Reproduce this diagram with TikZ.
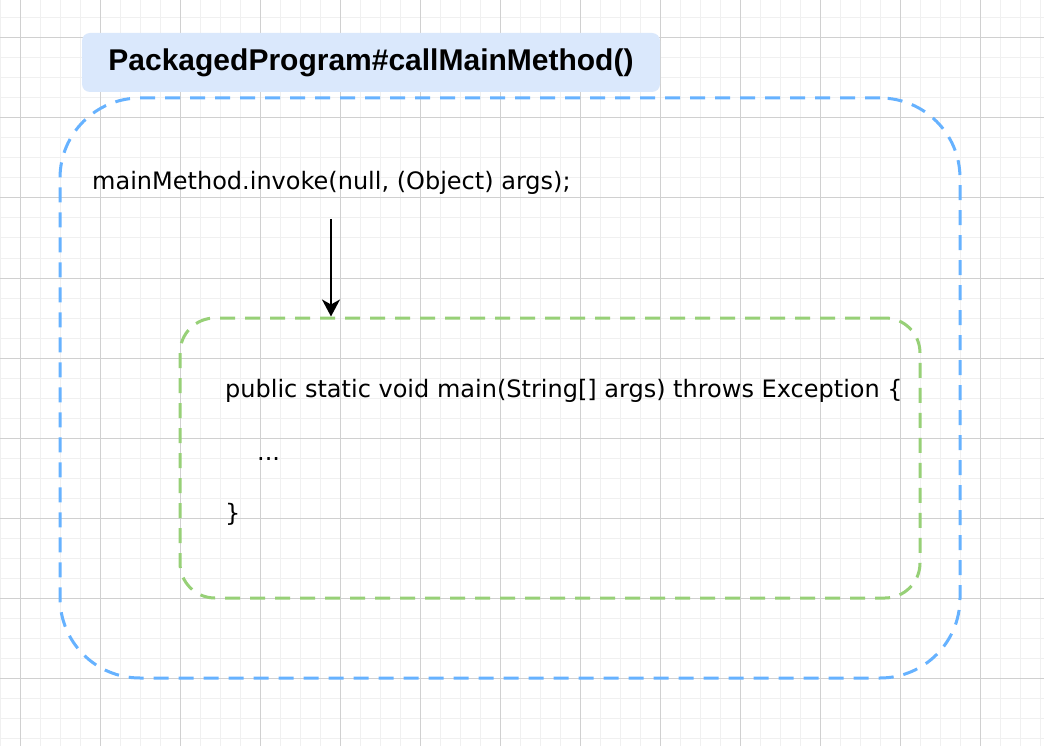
\documentclass[tikz,border=0pt]{standalone}
\usepackage{fontspec}
\setmainfont{DejaVu Sans}
\newfontfamily\titlefont{Liberation Sans}
\usepackage{xcolor}
\usepackage{tikz}
\usetikzlibrary{arrows.meta}
\definecolor{gridminor}{HTML}{F0F0F0}
\definecolor{gridmajor}{HTML}{D0D0D0}
\definecolor{boxblue}{HTML}{66B2FF}
\definecolor{boxgreen}{HTML}{97D077}
\definecolor{titlefill}{HTML}{DAE8FC}
\tikzset{every picture/.style={x=1pt,y=-1pt},
  outerbox/.style={draw=boxblue, line width=3pt, dash pattern=on 15pt off 10pt, rounded corners=80pt},
  innerbox/.style={draw=boxgreen, line width=3pt, dash pattern=on 15pt off 10pt, rounded corners=35pt},
  titlebox/.style={fill=titlefill, rounded corners=8pt, font=\titlefont\bfseries\fontsize{30}{36}\selectfont},
  code/.style={anchor=base west, inner sep=0pt, font=\fontsize{24}{28}\selectfont}}

\begin{document}
\begin{tikzpicture}
  \useasboundingbox (0,0) rectangle (1044,746);
  \fill[white] (0,0) rectangle (1044,746);
  \foreach \gx in {0,20,...,1040} \draw[gridminor, line width=1pt] (\gx,0) -- (\gx,746);
  \foreach \gy in {-2,18,...,746} \draw[gridminor, line width=1pt] (0,\gy) -- (1044,\gy);
  \foreach \gx in {20,100,...,1040} \draw[gridmajor, line width=1pt] (\gx,0) -- (\gx,746);
  \foreach \gy in {38,118,...,746} \draw[gridmajor, line width=1pt] (0,\gy) -- (1044,\gy);

  \node[outerbox, minimum width=900pt, minimum height=580pt] (outer) at (510,388){};
  \node[innerbox, minimum width=740pt, minimum height=280pt] (inner) at (550,458){};
  \node[titlebox, minimum width=578pt, minimum height=59pt] (title) at (371,62.5){PackagedProgram\#callMainMethod()};

  \node[code] (call) at (92,190){mainMethod.invoke(null, (Object) args);};
  \node[code] (sig) at (225,397){public static void main(String[] args) throws Exception \{};
  \node[code] (dots) at (257,460){...};
  \node[code] (close) at (225,521){\}};

  \coordinate (from) at (331,219);
  \draw[line width=2pt, -{Stealth[length=17pt, width=18pt, inset=5pt]}] (from) -- (from |- inner.north);
\end{tikzpicture}
\end{document}
